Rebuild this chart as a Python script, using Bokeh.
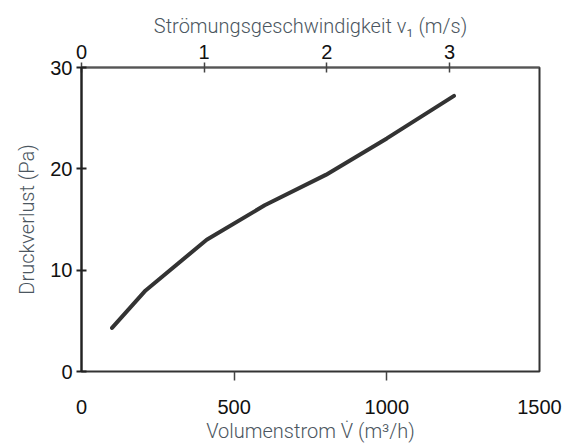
from bokeh.plotting import figure
from bokeh.models import LinearAxis, Range1d, FixedTicker
from bokeh.embed import file_html
from bokeh.resources import INLINE

# data
flow = [100, 210, 410, 600, 800, 1000, 1220]          # m³/h
dp = [4.3, 8.0, 13.0, 16.4, 19.4, 23.0, 27.2]         # Pa
x_ticks = [0, 500, 1000, 1500]
x_tick_marks = [500, 1000]
y_ticks = [0, 10, 20, 30]
v_ticks = [0, 1, 2, 3]
v_max = 3.734  # m/s at 1500 m³/h

TICK_FONT = "Liberation Sans"
LABEL_FONT = "Roboto Light"
LABEL_COLOR = "#4b5660"

p = figure(width=567, height=445, output_backend="svg", toolbar_location=None,
           x_range=Range1d(0, 1500), y_range=Range1d(0, 30),
           x_axis_location=None, y_axis_location=None,
           min_border_left=81, min_border_top=67, min_border_right=28, min_border_bottom=74)
p.background_fill_color = "white"
p.border_fill_color = "white"
p.outline_line_color = "#333333"
p.outline_line_width = 2
p.xgrid.visible = False
p.ygrid.visible = False

p.line(flow, dp, line_color="#333333", line_width=4, line_cap="round", line_join="round")

def style_labels(ax):
    ax.major_label_text_font = TICK_FONT
    ax.major_label_text_font_size = "20px"
    ax.major_label_text_color = "#111111"
    ax.axis_label_text_font = LABEL_FONT
    ax.axis_label_text_font_size = "20px"
    ax.axis_label_text_font_style = "normal"
    ax.axis_label_text_color = LABEL_COLOR
    ax.minor_tick_line_color = None

# left axis
ly = LinearAxis(ticker=FixedTicker(ticks=y_ticks), axis_label="Druckverlust (Pa)")
style_labels(ly)
ly.axis_line_color = "#222222"
ly.axis_line_width = 2
ly.major_tick_line_color = "#222222"
ly.major_tick_line_width = 2
ly.major_tick_in = 5
ly.major_tick_out = 5
ly.major_label_standoff = 4
ly.axis_label_standoff = 8
p.add_layout(ly, "left")

# top axis (velocity)
p.extra_x_ranges = {"v": Range1d(0, v_max)}
tx = LinearAxis(x_range_name="v", ticker=FixedTicker(ticks=v_ticks),
                axis_label="Strömungsgeschwindigkeit v₁ (m/s)")
style_labels(tx)
tx.axis_line_color = "#555555"
tx.axis_line_width = 1.5
tx.major_tick_line_color = "#444444"
tx.major_tick_line_width = 1.5
tx.major_tick_in = 5
tx.major_tick_out = 5
tx.major_label_standoff = 4
tx.axis_label_standoff = 4
p.add_layout(tx, "above")

# bottom axis: tick marks only (labels hidden)
bt = LinearAxis(ticker=FixedTicker(ticks=x_tick_marks))
bt.axis_line_color = None
bt.major_tick_line_color = "#444444"
bt.major_tick_line_width = 1.5
bt.major_tick_in = 0
bt.major_tick_out = 9
bt.major_label_text_font_size = "1px"
bt.major_label_text_color = None
bt.major_label_standoff = 0
bt.minor_tick_line_color = None
p.add_layout(bt, "below")

# bottom axis: labels
bx = LinearAxis(ticker=FixedTicker(ticks=x_ticks), axis_label="Volumenstrom V̇ (m³/h)")
style_labels(bx)
bx.axis_line_color = None
bx.major_tick_line_color = None
bx.major_tick_in = 0
bx.major_tick_out = 0
bx.major_label_standoff = 19
bx.axis_label_standoff = 2
p.add_layout(bx, "below")

open("out.html", "w").write(file_html(p, INLINE))
